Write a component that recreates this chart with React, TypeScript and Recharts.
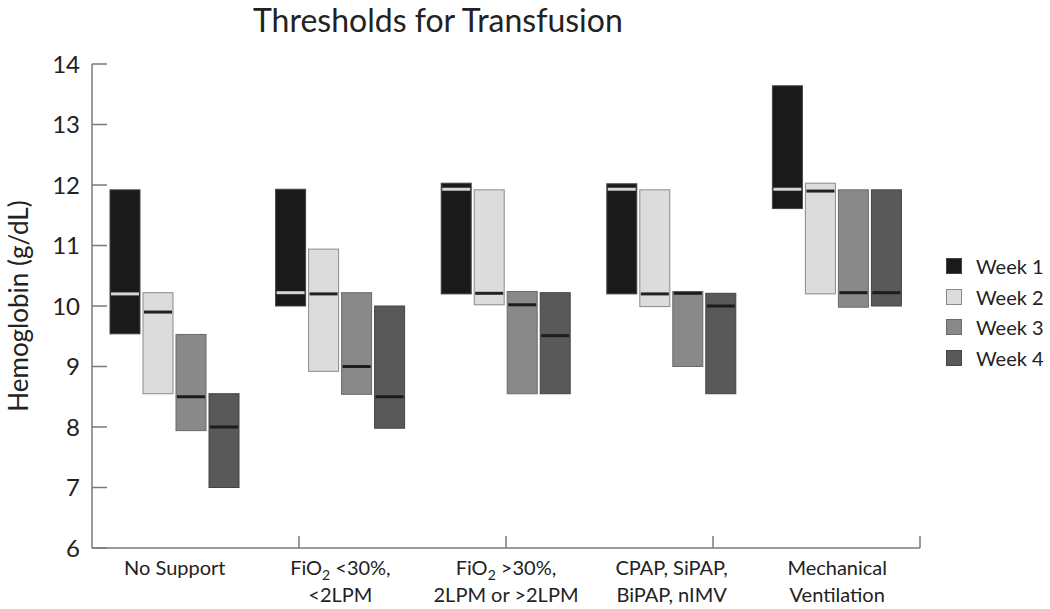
import React from 'react';
import { ComposedChart, Bar, XAxis, YAxis, ReferenceLine, Legend } from 'recharts';

const categories = [
  'No Support',
  'FiO2 <30%, <2LPM',
  'FiO2 >30%, 2LPM or >2LPM',
  'CPAP, SiPAP, BiPAP, nIMV',
  'Mechanical Ventilation',
];
const categoryLines = [
  ['No Support'],
  ['FiO2 <30%,', '<2LPM'],
  ['FiO2 >30%,', '2LPM or >2LPM'],
  ['CPAP, SiPAP,', 'BiPAP, nIMV'],
  ['Mechanical', 'Ventilation'],
];
const seriesNames = ['Week 1', 'Week 2', 'Week 3', 'Week 4'];

const week1Low = [9.54, 10.0, 10.2, 10.2, 11.61];
const week1High = [11.92, 11.93, 12.03, 12.02, 13.64];
const week1Median = [10.2, 10.22, 11.93, 11.93, 11.93];

const week2Low = [8.55, 8.92, 10.02, 9.99, 10.2];
const week2High = [10.22, 10.94, 11.92, 11.92, 12.03];
const week2Median = [9.9, 10.2, 10.21, 10.2, 11.9];

const week3Low = [7.94, 8.54, 8.55, 9.0, 9.98];
const week3High = [9.53, 10.22, 10.24, 10.24, 11.92];
const week3Median = [8.5, 9.0, 10.02, 10.21, 10.22];

const week4Low = [7.0, 7.98, 8.55, 8.55, 10.0];
const week4High = [8.55, 10.0, 10.22, 10.21, 11.92];
const week4Median = [8.0, 8.5, 9.51, 10.0, 10.22];

const yTicks = [6, 7, 8, 9, 10, 11, 12, 13, 14];
const separatorPositions = [1, 2, 3, 4, 5];

const fills = ['#1a1a1a', '#dcdcdc', '#898989', '#595959'];
const strokes = ['#444444', '#8a8a8a', '#6a6a6a', '#444444'];
const medianColors = ['#d4d4d4', '#222222', '#1c1c1c', '#1c1c1c'];

const data = categories.map((c, i) => ({
  name: c,
  w1: [week1Low[i], week1High[i]],
  w1m: week1Median[i],
  w2: [week2Low[i], week2High[i]],
  w2m: week2Median[i],
  w3: [week3Low[i], week3High[i]],
  w3m: week3Median[i],
  w4: [week4Low[i], week4High[i]],
  w4m: week4Median[i],
}));

const FONT = 'Lato, "Open Sans", sans-serif';
const AXIS = '#7a7a7a';

const makeShape = (key: string, idx: number) => (props: any) => {
  const { x, y, width, height, payload } = props;
  const [low, high] = payload[key];
  const med = payload[key + 'm'];
  const top = Math.min(y, y + height);
  const h = Math.abs(height);
  const my = top + (h * (high - med)) / (high - low);
  return (
    <g>
      <rect x={x} y={top} width={width} height={h} fill={fills[idx]} stroke={strokes[idx]} strokeWidth={1} />
      <rect x={x + 1} y={my - 1.5} width={width - 2} height={3} fill={medianColors[idx]} />
    </g>
  );
};

const renderLine = (line: string) => {
  if (line.startsWith('FiO2')) {
    return [
      <tspan key="a">FiO</tspan>,
      <tspan key="b" dy={5} fontSize={14}>2</tspan>,
      <tspan key="c" dy={-5}>{line.slice(4)}</tspan>,
    ];
  }
  return line;
};

const XTick = (props: any) => {
  const { x, y, payload } = props;
  const idx = categories.indexOf(payload.value);
  const lines = categoryLines[idx] || [];
  return (
    <g>
      {lines.map((line, li) => (
        <text key={li} x={x} y={y + 27 + li * 27} textAnchor="middle" fontSize={20} fontFamily={FONT} fill="#222">
          {renderLine(line)}
        </text>
      ))}
    </g>
  );
};

const YTick = (props: any) => {
  const { x, y, payload } = props;
  return (
    <g>
      <line x1={x + 12} x2={x + 27} y1={y} y2={y} stroke={AXIS} strokeWidth={1.5} />
      <text x={x} y={y} dy="0.36em" textAnchor="end" fontSize={24} fontFamily={FONT} fill="#222">
        {payload.value}
      </text>
    </g>
  );
};

const renderLegend = (props: any) => {
  const items = (props.payload || []).slice(0, 4);
  return (
    <div style={{ fontFamily: FONT, fontSize: 20, color: '#222' }}>
      {items.map((it: any, i: number) => (
        <div key={i} style={{ display: 'flex', alignItems: 'center', height: 30.5 }}>
          <span
            style={{
              display: 'inline-block',
              width: 14,
              height: 14,
              background: fills[i],
              border: `1px solid ${strokes[i]}`,
              marginRight: 14,
            }}
          />
          <span style={{ whiteSpace: 'nowrap' }}>{it.value}</span>
        </div>
      ))}
    </div>
  );
};

const YLabel = (props: any) => {
  const { viewBox } = props;
  const cx = 18;
  const cy = viewBox.y + viewBox.height / 2;
  return (
    <text
      x={cx}
      y={cy}
      transform={`rotate(-90 ${cx} ${cy})`}
      textAnchor="middle"
      dominantBaseline="central"
      fontSize={26}
      fontFamily={FONT}
      fill="#222"
    >
      Hemoglobin (g/dL)
    </text>
  );
};

export default function App() {
  return (
    <div style={{ position: 'absolute', left: 0, top: 0, width: 1050, height: 609, background: '#fff' }}>
      <div
        style={{
          position: 'absolute',
          left: 253,
          top: 0,
          fontFamily: FONT,
          fontSize: 32,
          lineHeight: 'normal',
          color: '#222',
          whiteSpace: 'nowrap',
        }}
      >
        Thresholds for Transfusion
      </div>
      <ComposedChart
        width={1050}
        height={609}
        data={data}
        margin={{ top: 64, right: 130, bottom: 0, left: 0 }}
        barGap={3}
      >
        <XAxis
          dataKey="name"
          height={61}
          tickLine={false}
          tickSize={0}
          tickMargin={0}
          interval={0}
          axisLine={{ stroke: AXIS, strokeWidth: 1.5 }}
          tick={<XTick />}
        />
        <XAxis xAxisId="sep" type="number" domain={[0, 5]} hide />
        <YAxis
          width={92}
          domain={[6, 14]}
          ticks={yTicks}
          interval={0}
          tickLine={false}
          tickSize={0}
          tickMargin={12}
          axisLine={{ stroke: AXIS, strokeWidth: 1.5 }}
          tick={<YTick />}
          label={<YLabel />}
        />
        {separatorPositions.map((s) => (
          <ReferenceLine
            key={s}
            xAxisId="sep"
            segment={[
              { x: s, y: 6 },
              { x: s, y: 6.2 },
            ]}
            stroke={AXIS}
            strokeWidth={1.5}
          />
        ))}
        <Bar dataKey="w1" name={seriesNames[0]} fill={fills[0]} barSize={30} shape={makeShape('w1', 0)} isAnimationActive={false} />
        <Bar dataKey="w2" name={seriesNames[1]} fill={fills[1]} barSize={30} shape={makeShape('w2', 1)} isAnimationActive={false} />
        <Bar dataKey="w3" name={seriesNames[2]} fill={fills[2]} barSize={30} shape={makeShape('w3', 2)} isAnimationActive={false} />
        <Bar dataKey="w4" name={seriesNames[3]} fill={fills[3]} barSize={30} shape={makeShape('w4', 3)} isAnimationActive={false} />
        <Legend
          layout="vertical"
          align="center"
          verticalAlign="middle"
          content={renderLegend}
          wrapperStyle={{ left: 946, top: 251, width: 110 }}
        />
      </ComposedChart>
    </div>
  );
}
